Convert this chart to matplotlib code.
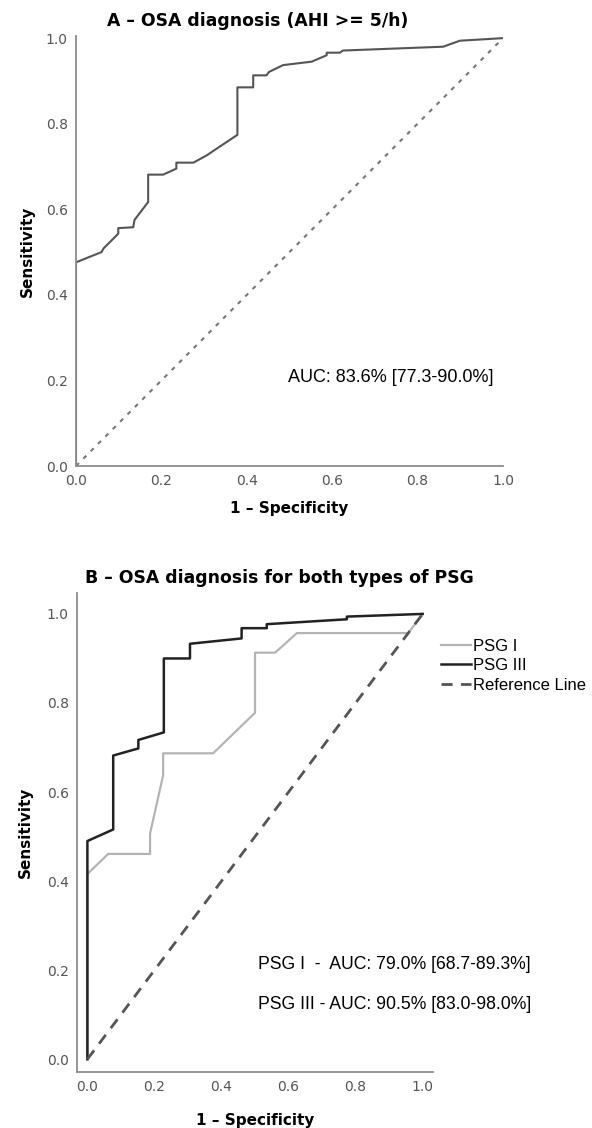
import matplotlib
matplotlib.use("Agg")
import matplotlib.pyplot as plt

plt.rcParams['font.family'] = 'DejaVu Sans'

# panel A - ROC for OSA diagnosis (AHI >= 5/h)
fpr_a = [0, 0, 0.06, 0.064, 0.099, 0.099, 0.134, 0.137, 0.169, 0.169, 0.204, 0.235,
         0.235, 0.275, 0.306, 0.378, 0.378, 0.415, 0.415, 0.446, 0.452, 0.485, 0.552,
         0.587, 0.587, 0.618, 0.625, 0.860, 0.899, 1.0]
tpr_a = [0, 0.476, 0.50, 0.508, 0.543, 0.556, 0.558, 0.575, 0.617, 0.681, 0.681, 0.695,
         0.709, 0.709, 0.726, 0.774, 0.885, 0.885, 0.913, 0.913, 0.921, 0.937, 0.945,
         0.96, 0.966, 0.966, 0.971, 0.98, 0.994, 1.0]

# panel B - PSG I and PSG III
fpr_psg1 = [0, 0, 0.062, 0.187, 0.187, 0.226, 0.226, 0.375, 0.5, 0.5, 0.56, 0.625, 0.957, 1.0]
tpr_psg1 = [0, 0.416, 0.461, 0.461, 0.507, 0.638, 0.687, 0.687, 0.778, 0.913, 0.913, 0.957, 0.957, 1.0]
fpr_psg3 = [0, 0, 0.077, 0.077, 0.152, 0.152, 0.228, 0.228, 0.306, 0.306, 0.46, 0.46,
            0.535, 0.535, 0.774, 0.774, 1.0]
tpr_psg3 = [0, 0.49, 0.516, 0.682, 0.698, 0.717, 0.734, 0.900, 0.900, 0.933, 0.945, 0.968,
            0.968, 0.977, 0.988, 0.994, 1.0]

auc_a = "AUC: 83.6% [77.3-90.0%]"
auc_psg1 = "PSG I  -  AUC: 79.0% [68.7-89.3%]"
auc_psg3 = "PSG III - AUC: 90.5% [83.0-98.0%]"
ticks = [0.0, 0.2, 0.4, 0.6, 0.8, 1.0]

W, H = 592, 1128
fig = plt.figure(figsize=(W / 100, H / 100), dpi=100)

spine_col = '#8c8c8c'
tick_col = '#555555'


def style(ax, ylpad, xlpad):
    for s in ['top', 'right']:
        ax.spines[s].set_visible(False)
    for s in ['left', 'bottom']:
        ax.spines[s].set_color(spine_col)
        ax.spines[s].set_linewidth(1.3)
    ax.set_xticks(ticks)
    ax.set_yticks(ticks)
    ax.set_xticklabels(['%.1f' % t for t in ticks])
    ax.set_yticklabels(['%.1f' % t for t in ticks])
    ax.tick_params(length=0, labelsize=10, labelcolor=tick_col, pad=6)
    ax.set_ylabel('Sensitivity', fontsize=11, fontweight='bold', labelpad=ylpad)
    ax.set_xlabel('1 – Specificity', fontsize=11, fontweight='bold', labelpad=xlpad)


# --- A ---
ax1 = fig.add_axes([76 / W, 1 - 466 / H, 427 / W, 430 / H])
ax1.plot(fpr_a, tpr_a, color='#555555', lw=1.5)
ax1.plot([0, 1], [0, 1], color='#777777', lw=1.5, linestyle=(0, (2, 3)))
ax1.set_xlim(0, 1.0)
ax1.set_ylim(0, 1.005)
style(ax1, 8, 9)
ax1.set_title('A – OSA diagnosis (AHI >= 5/h)', fontsize=12.4, fontweight='bold',
              loc='left', x=0.073, pad=7)
ax1.text(0.497, 0.206, auc_a, fontsize=13, family='Liberation Sans', va='center', ha='left')

# --- B ---
ax2 = fig.add_axes([77 / W, 1 - 1071.7 / H, 355.7 / W, 478.7 / H])
ax2.plot(fpr_psg1, tpr_psg1, color='#b4b4b4', lw=1.6, label='PSG I')
ax2.plot(fpr_psg3, tpr_psg3, color='#222222', lw=1.8, label='PSG III')
ax2.plot([0, 1], [0, 1], color='#555555', lw=2.0, linestyle=(0, (4, 3)), label='Reference Line')
ax2.set_xlim(-0.031, 1.03)
ax2.set_ylim(-0.028, 1.047)
style(ax2, 10, 14)
ax2.set_title('B – OSA diagnosis for both types of PSG', fontsize=12.4, fontweight='bold',
              loc='left', x=0.022, pad=7)
ax2.text(0.51, 0.213, auc_psg1, fontsize=12.7, family='Liberation Sans', va='center', ha='left')
ax2.text(0.51, 0.123, auc_psg3, fontsize=12.7, family='Liberation Sans', va='center', ha='left')
leg = ax2.legend(loc='upper left', bbox_to_anchor=(0.99, 0.929), frameon=False,
                 prop={'family': 'Liberation Sans', 'size': 12}, handlelength=1.8,
                 handletextpad=0.15, labelspacing=0.28, borderaxespad=0.3)

fig.savefig('out.png', dpi=100)
